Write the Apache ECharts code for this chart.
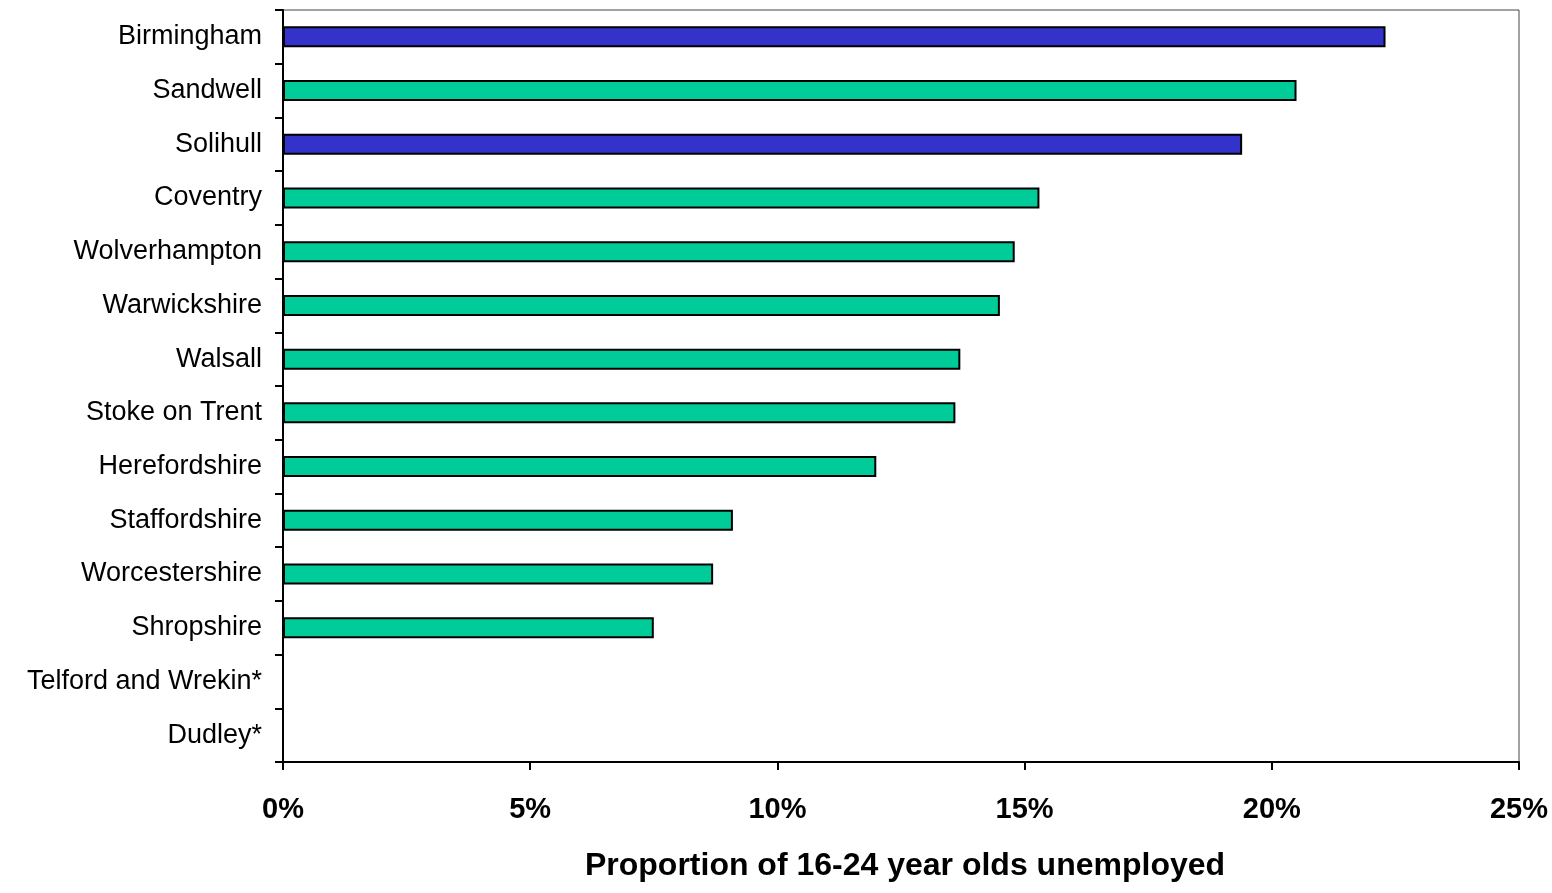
<!DOCTYPE html>
<html>
<head>
<meta charset="utf-8">
<script src="https://cdn.jsdelivr.net/npm/echarts@6/dist/echarts.min.js"></script>
<style>
html,body{margin:0;padding:0;background:#fff;}
#chart{width:1552px;height:893px;}
</style>
</head>
<body>
<div id="chart"></div>
<script>
const categories = ['Birmingham','Sandwell','Solihull','Coventry','Wolverhampton','Warwickshire','Walsall','Stoke on Trent','Herefordshire','Staffordshire','Worcestershire','Shropshire','Telford and Wrekin*','Dudley*'];
const values = [22.3, 20.5, 19.4, 15.3, 14.8, 14.5, 13.7, 13.6, 12.0, 9.1, 8.7, 7.5, null, null];
const highlighted = ['Birmingham','Solihull'];
const xTicks = [0, 5, 10, 15, 20, 25];
const axisTitle = 'Proportion of 16-24 year olds unemployed';

const chart = echarts.init(document.getElementById('chart'), null, {renderer:'canvas'});
const font = '"Liberation Sans", Arial, sans-serif';
chart.setOption({
  animation: false,
  grid: {left: 283, right: 33, top: 10, bottom: 131, show: true, borderColor: '#444', borderWidth: 1, backgroundColor: 'transparent'},
  xAxis: {
    type: 'value', min: xTicks[0], max: xTicks[xTicks.length-1], interval: 5,
    axisLine: {show: true, lineStyle: {color: '#000', width: 2}},
    axisTick: {show: true, length: 8, lineStyle: {color: '#000', width: 2}},
    splitLine: {show: false},
    axisLabel: {formatter: v => v + '%', fontFamily: font, fontSize: 29, fontWeight: 'bold', color: '#000', margin: 33},
    name: axisTitle, nameLocation: 'middle', nameGap: 88,
    nameTextStyle: {fontFamily: font, fontSize: 32, fontWeight: 'bold', color: '#000', padding: [0, 0, 0, 8]}
  },
  yAxis: {
    type: 'category', data: categories, inverse: true,
    axisLine: {show: true, lineStyle: {color: '#000', width: 2}},
    axisTick: {show: true, length: 8, alignWithLabel: false, lineStyle: {color: '#000', width: 2}},
    axisLabel: {fontFamily: font, fontSize: 27, color: '#000', margin: 21},
    splitLine: {show: false}
  },
  series: [{
    type: 'bar', data: values, barWidth: 21,
    itemStyle: {
      color: p => highlighted.includes(p.name) ? '#3333CC' : '#00CC99',
      borderColor: '#000', borderWidth: 2
    }
  }]
});
</script>
</body>
</html>
